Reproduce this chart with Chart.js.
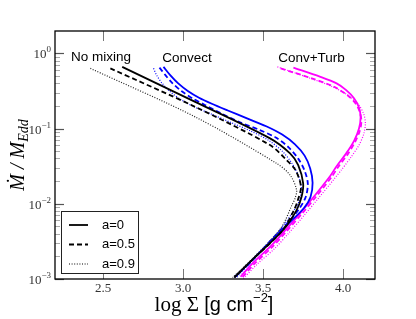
<!DOCTYPE html>
<html><head><meta charset="utf-8">
<script src="https://cdn.jsdelivr.net/npm/chart.js@4"></script>
<style>html,body{margin:0;padding:0;background:#fff;}#wrap{width:416px;height:319px;}</style>
</head><body><div id="wrap"><canvas id="c" width="416" height="319"></canvas></div>
<script>
// ---- data (x = log Sigma, y = log10(Mdot/MEdd)) ----
const legendLabels = ['a=0', 'a=0.5', 'a=0.9'];
const groupLabels = ['No mixing', 'Convect', 'Conv+Turb'];
const xTickValues = [2.5, 3.0, 3.5, 4.0];
const xTickLabels = ['2.5', '3.0', '3.5', '4.0'];
const yTickExps = [-3, -2, -1, 0];

const noMix_a0_x  = [2.62, 3.076, 3.544, 3.669, 3.72, 3.751, 3.741, 3.71, 3.626, 3.44, 3.325];
const noMix_a0_y  = [-0.18, -0.645, -1.131, -1.331, -1.486, -1.73, -1.907, -2.084, -2.349, -2.73, -2.97];
const noMix_a05_x = [2.546, 3.076, 3.544, 3.648, 3.705, 3.737, 3.718, 3.69, 3.62, 3.435, 3.32];
const noMix_a05_y = [-0.20, -0.712, -1.22, -1.42, -1.56, -1.774, -1.951, -2.10, -2.36, -2.74, -2.98];
const noMix_a09_x = [2.421, 3.076, 3.585, 3.67, 3.71, 3.70, 3.681, 3.612, 3.43, 3.31];
const noMix_a09_y = [-0.20, -0.845, -1.463, -1.62, -1.818, -1.93, -2.017, -2.323, -2.74, -2.98];

const conv_a0_x  = [2.878, 2.92, 2.97, 3.03, 3.10, 3.18, 3.28, 3.40, 3.52, 3.62, 3.70, 3.76, 3.795, 3.81, 3.797, 3.755, 3.68, 3.57, 3.44, 3.325];
const conv_a0_y  = [-0.18, -0.29, -0.40, -0.50, -0.59, -0.67, -0.76, -0.865, -0.97, -1.08, -1.21, -1.36, -1.53, -1.72, -1.91, -2.06, -2.22, -2.45, -2.73, -2.97];
const conv_a05_x = [2.853, 2.89, 2.935, 2.99, 3.06, 3.14, 3.24, 3.36, 3.48, 3.58, 3.66, 3.72, 3.76, 3.78, 3.767, 3.725, 3.66, 3.56, 3.44, 3.32];
const conv_a05_y = [-0.19, -0.29, -0.40, -0.50, -0.60, -0.69, -0.80, -0.92, -1.02, -1.12, -1.25, -1.40, -1.56, -1.73, -1.91, -2.07, -2.24, -2.46, -2.74, -2.98];
const conv_a09_x = [2.816, 2.835, 2.87, 2.92, 2.99, 3.07, 3.18, 3.30, 3.42, 3.53, 3.62, 3.68, 3.72, 3.74, 3.727, 3.69, 3.64, 3.55, 3.44, 3.33];
const conv_a09_y = [-0.20, -0.29, -0.40, -0.51, -0.62, -0.71, -0.81, -0.92, -1.03, -1.15, -1.30, -1.46, -1.62, -1.79, -1.96, -2.10, -2.25, -2.49, -2.74, -2.99];

const turb_a0_x  = [3.69, 3.855, 3.96, 4.02, 4.07, 4.10, 4.11, 4.10, 4.07, 4.02, 3.96, 3.92, 3.82, 3.73, 3.64, 3.55, 3.44, 3.36];
const turb_a0_y  = [-0.19, -0.31, -0.40, -0.49, -0.60, -0.72, -0.85, -1.00, -1.16, -1.33, -1.50, -1.63, -1.90, -2.13, -2.35, -2.56, -2.78, -2.97];
const turb_a05_x = [3.61, 3.80, 3.94, 4.03, 4.08, 4.105, 4.115, 4.105, 4.075, 4.03, 3.97, 3.93, 3.83, 3.74, 3.65, 3.56, 3.45, 3.37];
const turb_a05_y = [-0.20, -0.33, -0.44, -0.56, -0.67, -0.78, -0.90, -1.03, -1.18, -1.34, -1.51, -1.64, -1.91, -2.14, -2.36, -2.57, -2.79, -2.98];
const turb_a09_x = [3.59, 3.78, 3.93, 4.04, 4.10, 4.13, 4.14, 4.13, 4.10, 4.05, 3.99, 3.945, 3.845, 3.755, 3.665, 3.575, 3.46, 3.375];
const turb_a09_y = [-0.18, -0.32, -0.44, -0.57, -0.69, -0.81, -0.93, -1.07, -1.22, -1.38, -1.55, -1.67, -1.93, -2.16, -2.38, -2.59, -2.81, -3.00];

// ---- build ----
function pts(xs, ys) { return xs.map((x, i) => ({x: x, y: Math.pow(10, ys[i])})); }
const dashStyles = [[], [5, 3], [1, 1.6]];
const widths = [1.8, 1.8, 1.2];
function ds(xs, ys, color, k) {
  return {data: pts(xs, ys), borderColor: color, borderWidth: widths[k], borderDash: dashStyles[k],
    showLine: true, pointRadius: 0, tension: 0.3, fill: false};
}
const datasets = [
  ds(noMix_a09_x, noMix_a09_y, '#222', 2), ds(noMix_a05_x, noMix_a05_y, '#000', 1), ds(noMix_a0_x, noMix_a0_y, '#000', 0),
  ds(conv_a09_x, conv_a09_y, '#0000ff', 2), ds(conv_a05_x, conv_a05_y, '#0000ff', 1), ds(conv_a0_x, conv_a0_y, '#0000ff', 0),
  ds(turb_a09_x, turb_a09_y, '#ff00ff', 2), ds(turb_a05_x, turb_a05_y, '#ff00ff', 1), ds(turb_a0_x, turb_a0_y, '#ff00ff', 0)
];

const decor = {
  id: 'decor',
  afterDraw(chart) {
    const ctx = chart.ctx, a = chart.chartArea, xs = chart.scales.x, ys = chart.scales.y;
    ctx.save();
    const line = (x1, y1, x2, y2, c, w) => { ctx.strokeStyle = c; ctx.lineWidth = w; ctx.beginPath(); ctx.moveTo(x1, y1); ctx.lineTo(x2, y2); ctx.stroke(); };
    xTickValues.forEach(v => {
      const px = Math.round(xs.getPixelForValue(v)) + 0.5;
      line(px, a.bottom, px, a.bottom - 10, '#777', 1);
      line(px, a.top, px, a.top + 10, '#777', 1);
    });
    for (let e = -3; e <= 0; e++) {
      for (let m = 1; m <= 9; m++) {
        const v = m * Math.pow(10, e);
        if (v > ys.max || v < ys.min) continue;
        const py = Math.round(ys.getPixelForValue(v)) + 0.5;
        if (m === 1) {
          line(a.left, py, a.left + 9, py, '#555', 1.2);
          line(a.right, py, a.right - 9, py, '#555', 1.2);
        } else {
          line(a.left, py, a.left + 5, py, '#aaa', 1);
          line(a.right, py, a.right - 5, py, '#aaa', 1);
        }
      }
    }
    ctx.strokeStyle = '#000'; ctx.lineWidth = 1.3;
    ctx.strokeRect(a.left, a.top, a.right - a.left, a.bottom - a.top);
    // x tick labels
    ctx.fillStyle = '#333';
    ctx.font = '13px "Liberation Serif", "DejaVu Serif", serif';
    ctx.textAlign = 'center'; ctx.textBaseline = 'middle';
    xTickValues.forEach((v, i) => ctx.fillText(xTickLabels[i], xs.getPixelForValue(v), a.bottom + 10));
    // y tick labels
    yTickExps.forEach(e => {
      const py = ys.getPixelForValue(Math.pow(10, e));
      const sup = e === 0 ? '0' : '\u2212' + Math.abs(e);
      ctx.font = '9px "Liberation Serif", serif';
      const sw = ctx.measureText(sup).width;
      ctx.textAlign = 'left'; ctx.textBaseline = 'alphabetic';
      const right = a.left - 4;
      ctx.fillText(sup, right - sw, py - 1);
      ctx.font = '13px "Liberation Serif", serif';
      const bw = ctx.measureText('10').width;
      ctx.fillText('10', right - sw - bw, py + 5);
    });
    // group annotations
    ctx.fillStyle = '#000';
    ctx.font = '13.5px "Liberation Sans", Arial, sans-serif';
    ctx.textAlign = 'left'; ctx.textBaseline = 'alphabetic';
    const gx = [2.30, 2.87, 3.595], gy = [0.80, 0.76, 0.76];
    groupLabels.forEach((t, i) => ctx.fillText(t, xs.getPixelForValue(gx[i]), ys.getPixelForValue(gy[i])));
    // legend
    const lx = 61, ly = 211, lw = 77, lh = 62;
    ctx.fillStyle = '#fff'; ctx.fillRect(lx, ly, lw, lh);
    ctx.strokeStyle = '#222'; ctx.lineWidth = 1; ctx.strokeRect(lx + 0.5, ly + 0.5, lw, lh);
    legendLabels.forEach((t, i) => {
      const yy = ly + 14 + i * 19.5;
      ctx.strokeStyle = '#000'; ctx.lineWidth = widths[i]; ctx.setLineDash(dashStyles[i]);
      ctx.beginPath(); ctx.moveTo(69, yy); ctx.lineTo(88, yy); ctx.stroke();
      ctx.setLineDash([]);
      ctx.fillStyle = '#000'; ctx.font = '13px "Liberation Sans", Arial, sans-serif';
      ctx.textBaseline = 'middle'; ctx.fillText(t, 102, yy);
    });
    // x title
    ctx.textBaseline = 'alphabetic'; ctx.textAlign = 'left';
    const parts = [
      ['log \u03A3 ', '21px "Liberation Serif", serif', 0],
      ['[g cm', '20px "Liberation Sans", sans-serif', 0],
      ['\u22122', '13px "Liberation Sans", sans-serif', -9],
      [']', '20px "Liberation Sans", sans-serif', 0]
    ];
    let total = 0;
    parts.forEach(p => { ctx.font = p[1]; total += ctx.measureText(p[0]).width; });
    let cx = 214 - total / 2;
    parts.forEach(p => { ctx.font = p[1]; ctx.fillText(p[0], cx, 311 + p[2]); cx += ctx.measureText(p[0]).width; });
    // y title
    ctx.save();
    ctx.translate(24, 155); ctx.rotate(-Math.PI / 2);
    const yparts = [
      ['\u1E40 / M', 'italic 20px "Liberation Serif", serif', 0],
      ['Edd', 'italic 14px "Liberation Serif", serif', 4]
    ];
    let tw = 0;
    yparts.forEach(p => { ctx.font = p[1]; tw += ctx.measureText(p[0]).width; });
    let sx = -tw / 2;
    yparts.forEach(p => { ctx.font = p[1]; ctx.fillText(p[0], sx, p[2]); sx += ctx.measureText(p[0]).width; });
    ctx.restore();
    ctx.restore();
  }
};

new Chart(document.getElementById('c'), {
  type: 'scatter',
  data: {datasets: datasets},
  options: {
    responsive: false, animation: false, maintainAspectRatio: false,
    layout: {padding: {left: 55, right: 41, top: 31, bottom: 40}},
    plugins: {legend: {display: false}, tooltip: {enabled: false}},
    scales: {
      x: {type: 'linear', min: 2.2, max: 4.2, display: false},
      y: {type: 'logarithmic', min: 0.001, max: 1.98, display: false}
    }
  },
  plugins: [decor]
});
</script></body></html>
